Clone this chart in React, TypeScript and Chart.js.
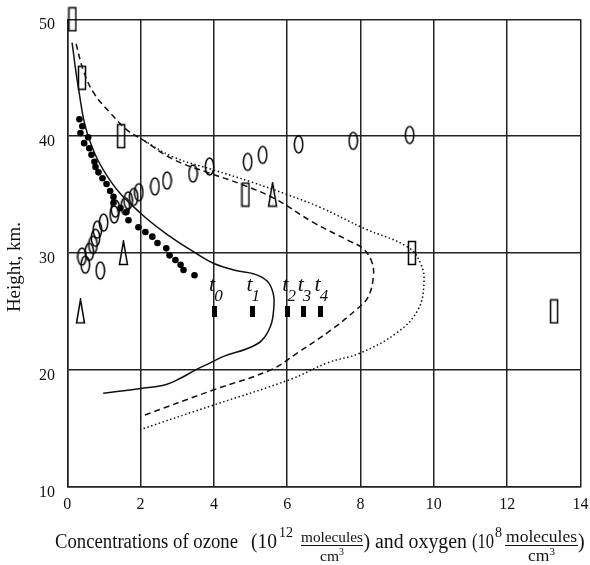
import React, { useEffect, useRef } from 'react';
import { Chart, registerables } from 'chart.js';

Chart.register(...registerables);

const xTicks = [0, 2, 4, 6, 8, 10, 12, 14];
const yTicks = [10, 20, 30, 40, 50];

const solidX = [0.13, 0.3, 0.57, 1.17, 2.0, 2.81, 3.5, 4.0, 4.6, 5.1, 5.45, 5.62, 5.63, 5.55, 5.3, 4.9, 4.3, 3.9, 3.5, 3.1, 2.7, 2.0, 0.98];
const solidY = [48.0, 44.2, 40.0, 36.2, 33.4, 31.4, 30.0, 29.1, 28.5, 28.2, 27.6, 26.5, 25.2, 23.8, 22.5, 21.8, 21.2, 20.6, 20.0, 19.3, 18.75, 18.4, 18.0];

const dashX = [0.24, 0.44, 0.72, 1.17, 1.64, 2.0, 2.9, 3.82, 4.73, 5.63, 6.72, 7.65, 8.06, 8.3, 8.35, 8.2, 7.9, 7.19, 6.3, 5.55, 4.0, 2.0];
const dashY = [47.9, 45.6, 43.7, 42.0, 40.5, 39.8, 38.0, 36.9, 35.9, 34.7, 32.6, 31.1, 30.4, 29.3, 28.0, 26.2, 25.2, 23.4, 21.5, 20.0, 18.3, 16.0];

const dotX = [2.0, 2.9, 4.0, 5.0, 6.0, 6.9, 8.1, 9.29, 9.64, 9.73, 9.56, 9.0, 8.0, 7.1, 6.1, 4.0, 2.0];
const dotY = [39.8, 38.2, 37.1, 36.1, 35.0, 33.9, 32.1, 30.5, 29.1, 27.4, 25.1, 23.2, 21.45, 20.6, 19.2, 17.0, 14.9];

const filledX = [0.33, 0.41, 0.36, 0.57, 0.46, 0.6, 0.66, 0.74, 0.77, 0.85, 0.96, 1.07, 1.17, 1.26, 1.26, 1.45, 1.61, 1.67, 1.94, 2.13, 2.32, 2.46, 2.7, 2.79, 2.95, 3.09, 3.17, 3.47];
const filledY = [41.45, 40.85, 40.26, 39.9, 39.4, 38.97, 38.4, 37.8, 37.35, 36.9, 36.4, 35.9, 35.3, 34.8, 34.3, 33.85, 33.5, 32.8, 32.2, 31.8, 31.4, 30.85, 30.4, 29.8, 29.4, 29.0, 28.55, 28.1];

const ellipseX = [0.4, 0.49, 0.6, 0.7, 0.77, 0.82, 0.99, 1.28, 1.31, 1.58, 1.66, 1.81, 1.95, 2.39, 2.72, 3.43, 3.88, 4.92, 5.33, 6.31, 7.8, 9.34, 0.9];
const ellipseY = [29.7, 29.0, 30.1, 30.7, 31.3, 32.0, 32.6, 33.3, 33.8, 34.0, 34.5, 34.8, 35.2, 35.7, 36.2, 36.8, 37.4, 37.8, 38.4, 39.3, 39.6, 40.1, 28.5];

const rectX = [0.14, 0.4, 1.47, 4.86, 9.4, 13.28];
const rectY = [50.0, 45.0, 40.0, 35.0, 30.0, 25.0];

const triX = [0.36, 1.53, 5.6];
const triY = [25.0, 30.0, 35.0];

const tX = [4.02, 5.04, 6.02, 6.44, 6.9];
const tY = 25.0;
const tSubs = ['0', '1', '2', '3', '4'];

const SERIF = '"Liberation Serif", "Times New Roman", serif';

function pts(xs: number[], ys: number[]) {
  return xs.map((x, i) => ({ x, y: ys[i] }));
}

function makeMarker(kind: string): HTMLCanvasElement {
  const c = document.createElement('canvas');
  let w = 11, h = 21;
  if (kind === 'rect') { w = 10; h = 26; }
  if (kind === 'tri') { w = 11; h = 26; }
  if (kind === 'bar') { w = 5; h = 11; }
  c.width = w; c.height = h;
  const g = c.getContext('2d')!;
  g.strokeStyle = '#000';
  g.fillStyle = '#000';
  g.lineWidth = 1.5;
  if (kind === 'ellipse') {
    g.beginPath();
    g.ellipse(w / 2, h / 2, 4.2, 8.6, 0, 0, Math.PI * 2);
    g.stroke();
  } else if (kind === 'rect') {
    g.strokeRect(1.5, 1.5, 7, 23);
  } else if (kind === 'tri') {
    g.beginPath();
    g.moveTo(5.5, 1.2);
    g.lineTo(9.5, 24.5);
    g.lineTo(1.5, 24.5);
    g.closePath();
    g.stroke();
  } else {
    g.fillRect(0, 0, w, h);
  }
  return c;
}

const textPlugin = {
  id: 'textPlugin',
  afterDatasetsDraw(chart: any) {
    const { ctx, scales } = chart;
    const xs = scales.x, ys = scales.y;
    ctx.save();
    ctx.fillStyle = '#111';
    ctx.textBaseline = 'alphabetic';
    tX.forEach((v, i) => {
      const px = xs.getPixelForValue(v);
      const py = ys.getPixelForValue(tY);
      ctx.font = `italic 22px ${SERIF}`;
      ctx.textAlign = 'right';
      ctx.fillText('t', px + 0.5, py - 20);
      ctx.font = `italic 17px ${SERIF}`;
      ctx.textAlign = 'left';
      ctx.fillText(tSubs[i], px - 0.5, py - 10);
    });
    ctx.restore();
  },
  afterDraw(chart: any) {
    const { ctx, scales } = chart;
    const xs = scales.x, ys = scales.y;
    ctx.save();
    ctx.fillStyle = '#111';
    ctx.strokeStyle = '#111';
    ctx.textBaseline = 'alphabetic';
    ctx.font = `16px ${SERIF}`;
    ctx.textAlign = 'center';
    xTicks.forEach((v) => {
      ctx.fillText(String(v), xs.getPixelForValue(v), 509);
    });
    ctx.textAlign = 'right';
    yTicks.forEach((v) => {
      ctx.fillText(String(v), 55, ys.getPixelForValue(v) + 10);
    });

    // y title
    ctx.save();
    ctx.translate(15, 267);
    ctx.rotate(-Math.PI / 2);
    ctx.textAlign = 'center';
    ctx.textBaseline = 'middle';
    ctx.font = `19px ${SERIF}`;
    ctx.fillText('Height, km.', 0, 0);
    ctx.restore();

    // x title
    ctx.textAlign = 'left';
    ctx.textBaseline = 'alphabetic';
    const big = `20px ${SERIF}`;
    const sup = `14px ${SERIF}`;
    const frac = (x0: number, x1: number, size: number) => {
      const cx = (x0 + x1) / 2;
      ctx.font = `${size}px ${SERIF}`;
      ctx.textAlign = 'center';
      ctx.fillText('molecules', cx, 542, x1 - x0);
      ctx.beginPath();
      ctx.lineWidth = 1;
      ctx.moveTo(x0, 545.5);
      ctx.lineTo(x1, 545.5);
      ctx.stroke();
      const cmW = ctx.measureText('cm').width;
      ctx.font = `${Math.round(size * 0.65)}px ${SERIF}`;
      const sW = ctx.measureText('3').width;
      const start = cx - (cmW + sW) / 2;
      ctx.textAlign = 'left';
      ctx.font = `${size}px ${SERIF}`;
      ctx.fillText('cm', start, 561);
      ctx.font = `${Math.round(size * 0.65)}px ${SERIF}`;
      ctx.fillText('3', start + cmW, 555);
    };
    ctx.font = big;
    ctx.fillText('Concentrations of ozone', 55, 548, 183);
    ctx.fillText('(10', 251, 548, 26);
    ctx.font = sup;
    ctx.fillText('12', 279, 537);
    frac(301, 363, 15.5);
    ctx.textAlign = 'left';
    ctx.font = big;
    ctx.fillText(')', 363.5, 548);
    ctx.fillText('and oxygen', 375, 548, 92);
    ctx.fillText('(10', 472, 548, 22);
    ctx.font = sup;
    ctx.fillText('8', 495, 537);
    frac(505, 578, 17.5);
    ctx.textAlign = 'left';
    ctx.font = big;
    ctx.fillText(')', 578, 548);
    ctx.restore();
  },
};

export default function App() {
  const ref = useRef<HTMLCanvasElement>(null);

  useEffect(() => {
    if (!ref.current) return;
    const ellipse = makeMarker('ellipse');
    const rect = makeMarker('rect');
    const tri = makeMarker('tri');
    const bar = makeMarker('bar');
    const gridColor = '#222';

    const chart = new Chart(ref.current, {
      type: 'scatter',
      data: {
        datasets: [
          {
            data: pts(solidX, solidY),
            showLine: true,
            pointRadius: 0,
            borderColor: '#111',
            borderWidth: 1.5,
            tension: 0.4,
            clip: false,
          },
          {
            data: pts(dashX, dashY),
            showLine: true,
            pointRadius: 0,
            borderColor: '#111',
            borderWidth: 1.5,
            borderDash: [6, 4],
            tension: 0.4,
            clip: false,
          },
          {
            data: pts(dotX, dotY),
            showLine: true,
            pointRadius: 0,
            borderColor: '#111',
            borderWidth: 1.5,
            borderDash: [1.5, 2.5],
            tension: 0.4,
            clip: false,
          },
          {
            data: pts(filledX, filledY),
            pointRadius: 3.3,
            pointBackgroundColor: '#000',
            pointBorderWidth: 0,
            clip: false,
          },
          {
            data: pts(ellipseX, ellipseY),
            pointStyle: ellipse,
            pointRadius: 3,
            clip: false,
          },
          {
            data: pts(rectX, rectY),
            pointStyle: rect,
            pointRadius: 3,
            clip: false,
          },
          {
            data: pts(triX, triY),
            pointStyle: tri,
            pointRadius: 3,
            clip: false,
          },
          {
            data: tX.map((x) => ({ x, y: tY })),
            pointStyle: bar,
            pointRadius: 3,
            clip: false,
          },
        ] as any,
      },
      options: {
        responsive: false,
        animation: false,
        devicePixelRatio: 1,
        events: [],
        layout: { padding: { left: 0, top: 19.3, right: 9.5, bottom: 0 } },
        plugins: { legend: { display: false }, tooltip: { enabled: false } },
        scales: {
          x: {
            type: 'linear',
            min: 0,
            max: 14,
            ticks: { stepSize: 2, display: false },
            grid: { color: gridColor, lineWidth: 1.5, drawTicks: false },
            border: { display: true, color: gridColor, width: 1.5 },
            afterFit: (s: any) => { s.height = 565 - 486.7; },
          },
          y: {
            type: 'linear',
            min: 10,
            max: 50,
            ticks: { stepSize: 10, display: false },
            grid: { color: gridColor, lineWidth: 1.5, drawTicks: false },
            border: { display: true, color: gridColor, width: 1.5 },
            afterFit: (s: any) => { s.width = 67.3; },
          },
        },
      } as any,
      plugins: [textPlugin],
    });
    return () => chart.destroy();
  }, []);

  return (
    <div style={{ position: 'fixed', left: 0, top: 0, width: 590, height: 565, background: '#fff' }}>
      <canvas ref={ref} width={590} height={565} style={{ display: 'block', width: 590, height: 565 }} />
    </div>
  );
}
